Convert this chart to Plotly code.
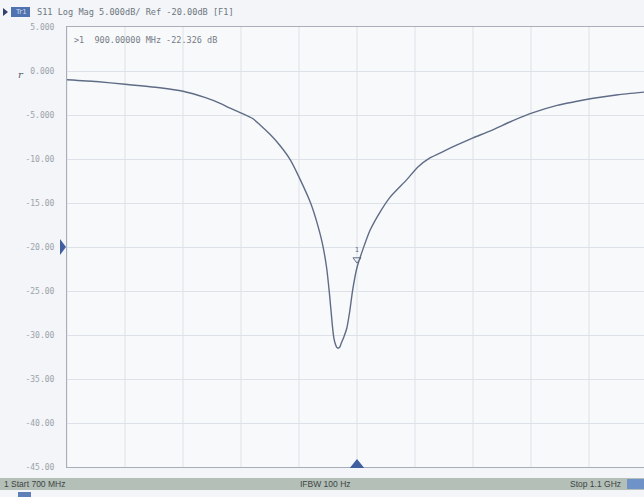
import plotly.graph_objects as go

# S11 sweep, 700 MHz .. 1.1 GHz
freq_mhz = [700, 720, 740, 764, 780, 795, 806, 812, 819, 828, 833, 840, 847, 854,
            861, 868, 872, 876, 879, 881, 883, 884, 885, 886, 887, 888, 889, 891,
            893, 895, 897, 900, 904, 909, 916, 923, 934, 942, 950, 960, 969, 980,
            992, 1008, 1022, 1038, 1050, 1063, 1080, 1098]
s11_db = [-1.0, -1.2, -1.5, -1.9, -2.3, -3.0, -3.7, -4.2, -4.7, -5.4, -6.1, -7.2,
          -8.5, -10.1, -12.4, -15.0, -17.0, -19.5, -22.3, -25.3, -28.9, -30.3, -31.0,
          -31.4, -31.5, -31.4, -31.0, -30.2, -29.2, -27.3, -24.9, -22.33, -20.3,
          -18.1, -16.0, -14.3, -12.4, -10.9, -9.9, -9.1, -8.4, -7.6, -6.8, -5.6,
          -4.7, -3.9, -3.5, -3.1, -2.7, -2.4]

y_ticks = [5, 0, -5, -10, -15, -20, -25, -30, -35, -40, -45]
y_tick_text = ["5.000", "0.000", "-5.000", "-10.00", "-15.00", "-20.00",
               "-25.00", "-30.00", "-35.00", "-40.00", "-45.00"]
x_grid = [700, 740, 780, 820, 860, 900, 940, 980, 1020, 1060, 1100]

marker_freq = 900
marker_db = -22.326
ref_level = -20

W, H = 644, 497
L, R, T, B = 67, 0, 27, 30
pw, ph = W - L - R, H - T - B


def px(x):
    return (x - L) / pw


def py(y):
    return (H - B - y) / ph


trace_col = "#5f6c86"
grid_col = "#dde2e8"
txt_col = "#9ca2aa"
blue = "#3f5f9f"

fig = go.Figure()
fig.add_trace(go.Scatter(x=freq_mhz, y=s11_db, mode="lines",
                         line=dict(color=trace_col, width=1.4, shape="spline", smoothing=0.5),
                         hoverinfo="skip", showlegend=False))
# marker 1 on the trace
fig.add_trace(go.Scatter(x=[marker_freq], y=[marker_db + 0.9], mode="markers+text",
                         marker=dict(symbol="triangle-down-open", size=7, color=trace_col,
                                     line=dict(width=1)),
                         text=["1"], textposition="top center",
                         textfont=dict(size=7, color=trace_col, family="DejaVu Sans"),
                         hoverinfo="skip", showlegend=False))

shapes = []
# status bar
shapes.append(dict(type="rect", xref="paper", yref="paper", x0=px(0), x1=px(W),
                   y0=py(490), y1=py(478), fillcolor="#b4c0b7", line=dict(width=0), layer="below"))
shapes.append(dict(type="rect", xref="paper", yref="paper", x0=px(627), x1=px(644),
                   y0=py(489), y1=py(479), fillcolor="#6f93c9", line=dict(width=0)))
# bottom strip
shapes.append(dict(type="rect", xref="paper", yref="paper", x0=px(18), x1=px(31),
                   y0=py(497), y1=py(492), fillcolor="#5f7fb8", line=dict(width=0)))
# header trace tag
shapes.append(dict(type="rect", xref="paper", yref="paper", x0=px(11), x1=px(30),
                   y0=py(17), y1=py(7), fillcolor="#4f73b0", line=dict(width=0)))
shapes.append(dict(type="path", xref="paper", yref="paper",
                   path=f"M {px(3)},{py(8)} L {px(8)},{py(12)} L {px(3)},{py(16)} Z",
                   fillcolor="#34406a", line=dict(width=0)))
# reference level arrow
shapes.append(dict(type="path", xref="paper", yref="y",
                   path=f"M {px(60)},{ref_level + 0.9} L {px(66)},{ref_level} L {px(60)},{ref_level - 0.9} Z",
                   fillcolor=blue, line=dict(width=0)))
# stimulus marker arrow at bottom
shapes.append(dict(type="path", xref="x", yref="paper",
                   path=f"M {marker_freq - 5},{py(468)} L {marker_freq},{py(459)} L {marker_freq + 5},{py(468)} Z",
                   fillcolor=blue, line=dict(width=0)))
# vertical grid
for g in x_grid:
    shapes.append(dict(type="line", xref="x", yref="paper", x0=g, x1=g, y0=0, y1=1,
                       line=dict(color=grid_col, width=1), layer="below"))

annotations = [
    dict(text="S11 Log Mag 5.000dB/ Ref -20.00dB [F1]", x=px(35), y=py(12), xanchor="left",
         yanchor="middle", font=dict(family="DejaVu Sans Mono", size=8.6, color="#6d7580")),
    dict(text="Tr1", x=px(20.5), y=py(12), xanchor="center", yanchor="middle",
         font=dict(family="DejaVu Sans", size=7, color="#cfd9ee")),
    dict(text=f">1  {marker_freq:.5f} MHz {marker_db:.3f} dB", x=px(72), y=py(40),
         xanchor="left", yanchor="middle",
         font=dict(family="DejaVu Sans Mono", size=8.5, color="#757c86")),
    dict(text="<i>r</i>", x=px(21), y=py(74), xanchor="center", yanchor="middle",
         font=dict(family="DejaVu Serif", size=10, color="#555b66")),
    dict(text="1 Start 700 MHz", x=px(2), y=py(484), xanchor="left", yanchor="middle",
         font=dict(family="Liberation Sans Narrow, Liberation Sans", size=8.5, color="#3d4446")),
    dict(text="IFBW 100 Hz", x=px(298), y=py(484), xanchor="left", yanchor="middle",
         font=dict(family="Liberation Sans Narrow, Liberation Sans", size=8.5, color="#3d4446")),
    dict(text="Stop 1.1 GHz", x=px(623), y=py(484), xanchor="right", yanchor="middle",
         font=dict(family="Liberation Sans Narrow, Liberation Sans", size=8.5, color="#3d4446")),
]
for a in annotations:
    a.update(xref="paper", yref="paper", showarrow=False)

fig.update_layout(
    width=W, height=H, margin=dict(l=L, r=R, t=T, b=B),
    paper_bgcolor="#f3f5f8", plot_bgcolor="#f8f9fb",
    shapes=shapes, annotations=annotations,
    xaxis=dict(range=[700, 700 + (W - L) / 580 * 400], showgrid=False, showticklabels=False,
               zeroline=False, showline=True, linecolor="#a9afb8", linewidth=1, mirror=True,
               ticks=""),
    yaxis=dict(range=[-45, 5], tickvals=y_ticks, ticktext=y_tick_text, showgrid=True,
               gridcolor=grid_col, zeroline=False, showline=True, linecolor="#a9afb8",
               linewidth=1, mirror=True, ticks="", ticklabelstandoff=10,
               tickfont=dict(family="DejaVu Sans Mono", size=8, color=txt_col)),
)

fig.write_html("out.html")
